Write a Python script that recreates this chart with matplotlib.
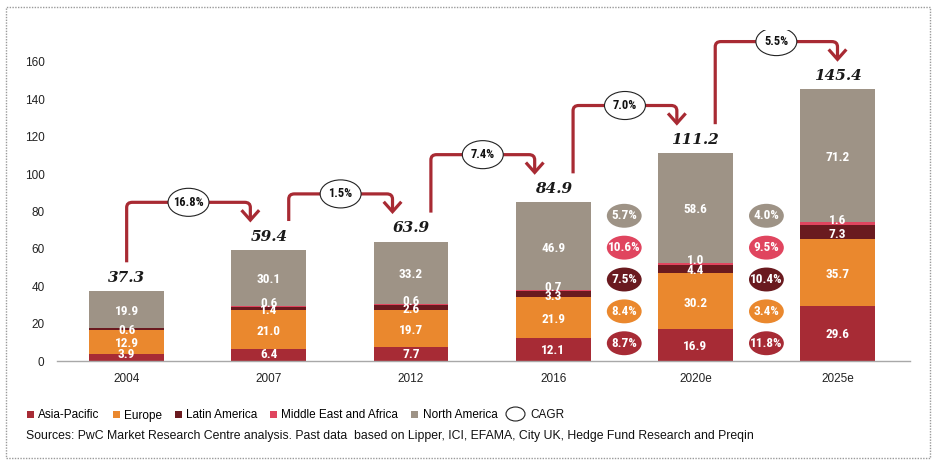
import numpy as np
import matplotlib
matplotlib.use("Agg")
import matplotlib.pyplot as plt
from matplotlib.patches import Ellipse, PathPatch, Rectangle, Patch
from matplotlib.path import Path

years = ["2004", "2007", "2012", "2016", "2020e", "2025e"]
asia = [3.9, 6.4, 7.7, 12.1, 16.9, 29.6]
europe = [12.9, 21.0, 19.7, 21.9, 30.2, 35.7]
latam = [0.6, 1.4, 2.6, 3.3, 4.4, 7.3]
mea = [0.0, 0.6, 0.6, 0.7, 1.0, 1.6]
namer = [19.9, 30.1, 33.2, 46.9, 58.6, 71.2]
totals = [37.3, 59.4, 63.9, 84.9, 111.2, 145.4]
cagr_total = ["16.8%", "1.5%", "7.4%", "7.0%", "5.5%"]
# regional CAGR, bottom (Asia) to top (North America)
cagr_2016_2020 = ["8.7%", "8.4%", "7.5%", "10.6%", "5.7%"]
cagr_2020_2025 = ["11.8%", "3.4%", "10.4%", "9.5%", "4.0%"]

C_ASIA = "#a72b35"
C_EUR = "#ea882e"
C_LAT = "#6a1a1f"
C_MEA = "#e0455f"
C_NA = "#9e9386"
C_ARROW = "#a82a33"
colors = [C_ASIA, C_EUR, C_LAT, C_MEA, C_NA]
names = ["Asia-Pacific", "Europe", "Latin America", "Middle East and Africa", "North America"]

SANS = ["Liberation Sans", "DejaVu Sans"]
NARROW = ["Liberation Sans Narrow", "Roboto Condensed", "Open Sans Condensed", "DejaVu Sans"]
SERIF = ["DejaVu Serif"]
plt.rcParams["font.family"] = SANS

W, H = 937, 468
fig = plt.figure(figsize=(W / 100, H / 100), dpi=100)
ax = fig.add_axes([57 / W, (H - 361) / H, (910 - 57) / W, (361 - 30) / H])
ax.set_xlim(-0.49, 5.51)
ax.set_ylim(0, 177.1)

x = np.arange(len(years))
bw = 0.527
series = [asia, europe, latam, mea, namer]
bottom = np.zeros(len(years))
for vals, c in zip(series, colors):
    ax.bar(x, vals, bw, bottom=bottom, color=c, linewidth=0, zorder=2)
    bottom += np.array(vals)

# segment labels
lab = dict(color="white", fontsize=9.5, fontweight="bold", family=NARROW,
           fontstretch="condensed", ha="center", va="center", zorder=4)
for i in range(len(years)):
    b0 = 0.0
    ax.text(x[i], max(asia[i] / 2 - 0.6, 3.6), f"{asia[i]:.1f}", **lab)
    b0 += asia[i]
    ax.text(x[i], b0 + europe[i] / 2 - 1, f"{europe[i]:.1f}", **lab)
    b0 += europe[i]
    ax.text(x[i], b0 + latam[i] / 2 - 1, f"{latam[i]:.1f}", **lab)
    b0 += latam[i]
    if mea[i] > 0:
        ax.text(x[i], b0 + mea[i] + 1.2, f"{mea[i]:.1f}", **lab)
    b0 += mea[i]
    ax.text(x[i], b0 + namer[i] / 2 - 1, f"{namer[i]:.1f}", **lab)
    ax.text(x[i], totals[i] + 7, f"{totals[i]:.1f}", family=SERIF, fontsize=11,
            fontweight="bold", fontstyle="italic", ha="center", va="center",
            color="#1a1a1a", zorder=4)

# CAGR arrows between totals
rx, ry = 0.04, 2.8
hx, hy = 0.062, 5.3
for i, label in enumerate(cagr_total):
    x0 = x[i] if i == 0 else x[i] + 0.14
    x1 = x[i + 1] if i == len(cagr_total) - 1 else x[i + 1] - 0.13
    y0 = totals[i] + 15.5
    y1 = totals[i + 1] + 16
    top = totals[i + 1] + 25.5
    verts = [(x0, y0), (x0, top - ry), (x0, top), (x0 + rx, top),
             (x1 - rx, top), (x1, top), (x1, top - ry), (x1, y1)]
    codes = [Path.MOVETO, Path.LINETO, Path.CURVE3, Path.CURVE3,
             Path.LINETO, Path.CURVE3, Path.CURVE3, Path.LINETO]
    ax.add_patch(PathPatch(Path(verts, codes), fill=False, edgecolor=C_ARROW,
                           lw=2.3, capstyle="butt", zorder=3))
    ax.plot([x1 - hx, x1, x1 + hx], [y1 + hy, y1, y1 + hy], color=C_ARROW,
            lw=2.3, solid_joinstyle="miter", solid_capstyle="butt", zorder=3)
    xm = (x0 + x1) / 2
    ax.add_patch(Ellipse((xm, top), 0.288, 15.0, facecolor="white",
                         edgecolor="#222222", lw=0.8, zorder=5))
    ax.text(xm, top, label, fontsize=9, fontweight="bold", family=NARROW,
            fontstretch="condensed", ha="center", va="center", color="#111111", zorder=6)

# regional CAGR bubbles
for xc, vals in [(3.5, cagr_2016_2020), (4.5, cagr_2020_2025)]:
    for k, (v, c) in enumerate(zip(vals, colors)):
        yc = 9.5 + 17.05 * k
        ax.add_patch(Ellipse((xc, yc), 0.245, 12.8, facecolor=c, edgecolor="none", zorder=5))
        ax.text(xc, yc, v, color="white", fontsize=9.5, fontweight="bold", family=NARROW,
                fontstretch="condensed", ha="center", va="center", zorder=6)

for s in ["top", "right", "left"]:
    ax.spines[s].set_visible(False)
ax.spines["bottom"].set_color("#a8a8a8")
ax.spines["bottom"].set_linewidth(1.0)
ax.set_xticks(x)
ax.set_xticklabels(years)
ax.set_yticks(np.arange(0, 161, 20))
ax.tick_params(axis="both", length=0, labelsize=8.5, colors="#222222")
ax.tick_params(axis="y", pad=9)
ax.tick_params(axis="x", pad=9)

# legend
handles = [Patch(facecolor=c, edgecolor="none") for c in colors]
fig.legend(handles, names, loc="center left", bbox_to_anchor=(27 / W, (H - 415.5) / H),
           ncol=5, frameon=False, fontsize=8.5, handlelength=0.6, handleheight=0.6,
           handletextpad=0.35, columnspacing=1.1, borderpad=0, borderaxespad=0)
fig.patches.append(Ellipse((515.5 / W, (H - 414) / H), 19 / W, 14 / H, transform=fig.transFigure,
                           facecolor="white", edgecolor="#222222", lw=0.8))
fig.text(530 / W, (H - 415.5) / H, "CAGR", fontsize=8.5, ha="left", va="center", color="#111111")
fig.text(26 / W, (H - 436) / H, "Sources: PwC Market Research Centre analysis. Past data  based on "
         "Lipper, ICI, EFAMA, City UK, Hedge Fund Research and Preqin",
         fontsize=8.8, ha="left", va="center", color="#111111")

# dotted frame
fig.patches.append(Rectangle((6 / W, (H - 458) / H), (930 - 6) / W, (458 - 7) / H,
                             transform=fig.transFigure, fill=False, edgecolor="#9a9a9a",
                             lw=1.0, linestyle=(0, (1, 1))))

fig.savefig("out.png", dpi=100)
